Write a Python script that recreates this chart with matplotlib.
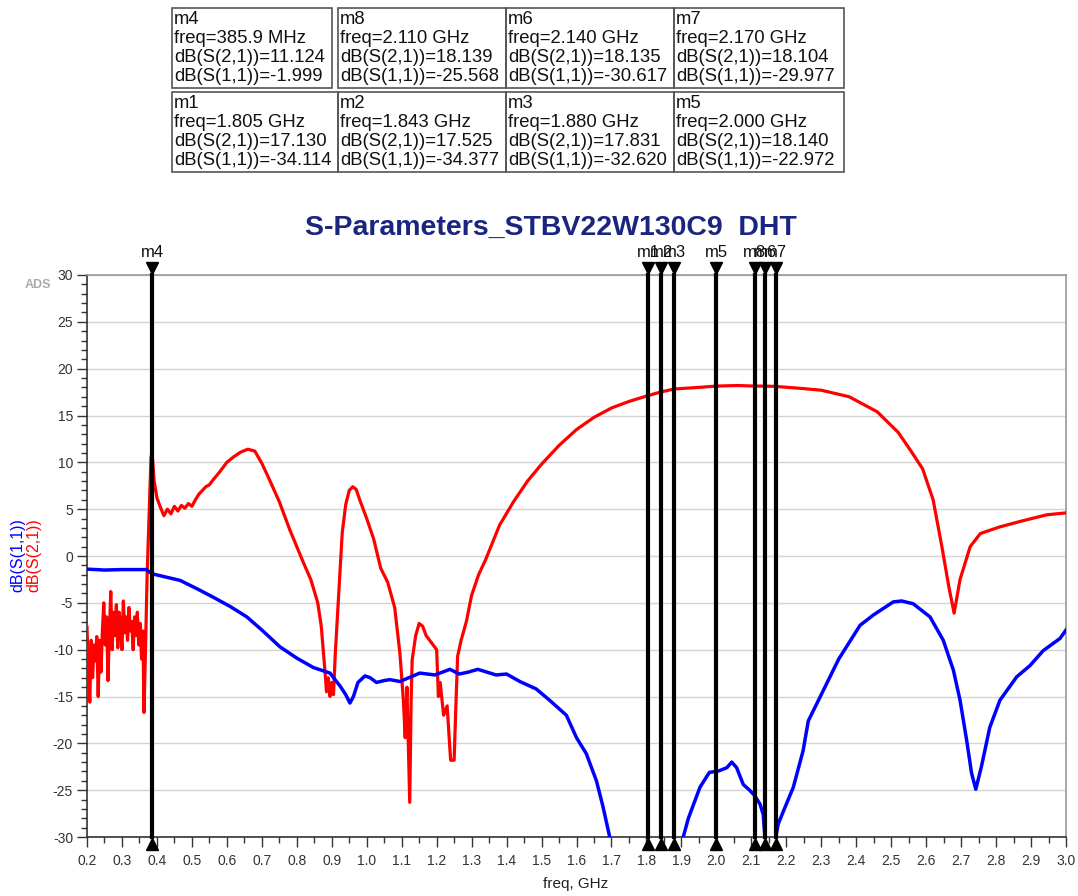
import matplotlib
matplotlib.use("Agg")
import matplotlib.pyplot as plt
from matplotlib.patches import Rectangle
from matplotlib.transforms import offset_copy
from matplotlib.ticker import MultipleLocator, FormatStrFormatter

plt.rcParams["font.family"] = ["Liberation Sans", "DejaVu Sans"]
plt.rcParams["axes.unicode_minus"] = False

# dB(S(2,1))
s21_freq = [0.200, 0.204, 0.208, 0.212, 0.216, 0.220, 0.224, 0.228, 0.232, 0.236,
            0.240, 0.244, 0.248, 0.252, 0.256, 0.260, 0.264, 0.268, 0.272, 0.276,
            0.280, 0.284, 0.288, 0.292, 0.296, 0.300, 0.304, 0.308, 0.312, 0.316,
            0.320, 0.324, 0.328, 0.332, 0.336, 0.340, 0.344, 0.348, 0.352, 0.356,
            0.360,
            0.363, 0.367, 0.372, 0.378, 0.383, 0.386, 0.392, 0.400, 0.410, 0.420,
            0.430, 0.440, 0.450, 0.460, 0.470, 0.480, 0.490, 0.500, 0.510, 0.520,
            0.530, 0.540, 0.550, 0.560, 0.580, 0.600, 0.620, 0.640, 0.660, 0.680,
            0.700, 0.720, 0.750, 0.780, 0.800, 0.820, 0.840, 0.860, 0.870, 0.880,
            0.885, 0.890, 0.895, 0.900, 0.905, 0.910, 0.920, 0.930, 0.940, 0.950,
            0.960, 0.970, 0.980, 1.000, 1.020, 1.040, 1.060, 1.080, 1.095, 1.105,
            1.110, 1.115, 1.120, 1.123, 1.127, 1.130, 1.140, 1.150, 1.160, 1.170,
            1.180, 1.190, 1.200, 1.205, 1.210, 1.220, 1.230, 1.240, 1.250, 1.255,
            1.260, 1.270, 1.285, 1.300, 1.320, 1.340, 1.380, 1.420, 1.460, 1.500,
            1.550, 1.600, 1.650, 1.700, 1.750, 1.805, 1.843, 1.880, 1.950, 2.000,
            2.060, 2.110, 2.140, 2.170, 2.240, 2.300, 2.380, 2.460, 2.520, 2.555,
            2.590, 2.620, 2.645, 2.665, 2.680, 2.697, 2.726, 2.755, 2.810, 2.870,
            2.945, 3.000]
s21_db = [-7.6, -12.6, -15.6, -9.0, -13.0, -9.5, -11.2, -8.6, -15.0, -9.0,
          -12.4, -8.0, -5.0, -9.5, -6.5, -13.3, -8.0, -3.8, -10.0, -6.0,
          -8.5, -5.2, -9.8, -6.0, -7.5, -10.0, -4.8, -8.2, -6.5, -9.0,
          -5.5, -8.0, -7.0, -10.0, -6.5, -8.5, -6.0, -9.5, -7.2, -11.0,
          -8.0,
          -16.7, -10.4, -2.0, 5.0, 10.5, 11.1, 8.0, 6.2, 5.2, 4.3,
          5.0, 4.5, 5.3, 4.8, 5.4, 5.1, 5.6, 5.3, 6.0, 6.6,
          7.0, 7.4, 7.6, 8.1, 9.0, 10.0, 10.6, 11.1, 11.4, 11.2,
          9.9, 8.3, 5.8, 2.8, 1.0, -0.8, -2.5, -5.0, -7.5, -12.0,
          -14.5, -13.0, -15.0, -13.5, -14.8, -10.5, -4.0, 2.5, 5.5, 7.0,
          7.4, 7.1, 6.0, 4.0, 1.8, -1.3, -2.8, -5.5, -10.4, -15.5,
          -19.4, -14.0, -22.0, -26.3, -15.4, -11.1, -8.5, -7.2, -7.5, -8.5,
          -9.0, -9.5, -10.0, -15.0, -13.5, -17.0, -16.0, -21.8, -21.8, -16.0,
          -10.7, -9.0, -7.0, -4.2, -2.0, -0.4, 3.3, 5.8, 8.0, 9.8,
          11.8, 13.5, 14.8, 15.8, 16.5, 17.13, 17.53, 17.83, 18.0, 18.14,
          18.2, 18.14, 18.14, 18.1, 17.9, 17.7, 17.0, 15.4, 13.2, 11.3,
          9.3, 6.0, 1.0, -3.3, -6.1, -2.5, 1.0, 2.4, 3.1, 3.7,
          4.4, 4.6]

# dB(S(1,1))
s11_freq = [0.200, 0.250, 0.300, 0.370, 0.386, 0.420, 0.466, 0.520, 0.561, 0.610,
            0.657, 0.700, 0.752, 0.800, 0.847, 0.895, 0.924, 0.940, 0.952, 0.962,
            0.975, 0.995, 1.010, 1.028, 1.050, 1.066, 1.095, 1.120, 1.152, 1.195,
            1.238, 1.265, 1.290, 1.318, 1.370, 1.400, 1.438, 1.485, 1.523, 1.571,
            1.600, 1.628, 1.657, 1.676, 1.695, 1.720, 1.805, 1.843, 1.880, 1.906,
            1.920, 1.953, 1.980, 2.000, 2.010, 2.030, 2.044, 2.058, 2.077, 2.095,
            2.110, 2.125, 2.134, 2.140, 2.155, 2.170, 2.177, 2.200, 2.220, 2.248,
            2.263, 2.300, 2.350, 2.411, 2.449, 2.506, 2.530, 2.563, 2.611, 2.649,
            2.678, 2.697, 2.716, 2.730, 2.742, 2.758, 2.782, 2.811, 2.859, 2.897,
            2.935, 2.983, 3.000]
s11_db = [-1.4, -1.5, -1.45, -1.45, -1.9, -2.2, -2.6, -3.6, -4.4, -5.4,
          -6.5, -7.9, -9.7, -10.9, -11.9, -12.5, -13.9, -14.8, -15.7, -15.0,
          -13.5, -12.8, -13.0, -13.5, -13.3, -13.2, -13.4, -13.0, -12.5, -12.7,
          -12.1, -12.6, -12.4, -12.1, -12.7, -12.6, -13.4, -14.2, -15.4, -17.0,
          -19.4, -21.1, -24.0, -26.8, -30.0, -32.5, -34.1, -34.4, -32.6, -29.9,
          -28.0, -24.7, -23.1, -23.0, -22.9, -22.6, -22.0, -22.6, -24.4, -25.0,
          -25.6, -26.5, -27.6, -30.6, -31.0, -30.0, -28.6, -26.5, -24.7, -20.8,
          -17.6, -14.8, -11.0, -7.4, -6.3, -4.9, -4.8, -5.1, -6.5, -9.0,
          -12.2, -15.4, -19.7, -23.2, -24.9, -22.5, -18.3, -15.4, -12.9, -11.7,
          -10.1, -8.8, -7.9]

marker_names = ["m4", "m1", "m2", "m3", "m5", "m8", "m6", "m7"]
marker_freq = [0.3859, 1.805, 1.843, 1.880, 2.000, 2.110, 2.140, 2.170]

# marker readout table, two rows of four boxes
table_rows = [
    ["m4", "m8", "m6", "m7"],
    ["m1", "m2", "m3", "m5"],
]
table_freq = [
    ["385.9 MHz", "2.110 GHz", "2.140 GHz", "2.170 GHz"],
    ["1.805 GHz", "1.843 GHz", "1.880 GHz", "2.000 GHz"],
]
table_s21 = [
    ["11.124", "18.139", "18.135", "18.104"],
    ["17.130", "17.525", "17.831", "18.140"],
]
table_s11 = [
    ["-1.999", "-25.568", "-30.617", "-29.977"],
    ["-34.114", "-34.377", "-32.620", "-22.972"],
]

W, H = 1078, 896
fig = plt.figure(figsize=(W / 100, H / 100), dpi=100)
fig.patch.set_facecolor("white")


def fx(x):
    return x / W


def fy(y):
    return 1 - y / H


ax = fig.add_axes([fx(87), fy(837), fx(1066) - fx(87), fy(275) - fy(837)])
ax.plot(s21_freq, s21_db, color="#ff0000", lw=2.3, zorder=3)
ax.plot(s11_freq, s11_db, color="#0000ff", lw=2.5, zorder=4)

ax.set_xlim(0.2, 3.0)
ax.set_ylim(-30, 30)
ax.xaxis.set_major_locator(MultipleLocator(0.1))
ax.xaxis.set_minor_locator(MultipleLocator(0.05))
ax.xaxis.set_major_formatter(FormatStrFormatter("%.1f"))
ax.yaxis.set_major_locator(MultipleLocator(5))
ax.yaxis.set_minor_locator(MultipleLocator(1))
ax.tick_params(axis="both", which="major", direction="out", length=7, width=1,
               labelsize=10, colors="#333333", pad=3)
ax.tick_params(axis="both", which="minor", direction="out", length=4, width=1,
               colors="#333333")
ax.tick_params(axis="x", which="major", pad=5)
ax.grid(axis="y", which="major", color="#d4d4d4", lw=1)
ax.set_axisbelow(True)
for s in ["left", "bottom"]:
    ax.spines[s].set_color("#333333")
    ax.spines[s].set_linewidth(1.2)
for s in ["top", "right"]:
    ax.spines[s].set_color("#999999")
    ax.spines[s].set_linewidth(1.2)

# markers: vertical bars with triangles and labels
top_tr = offset_copy(ax.transData, fig=fig, y=5, units="points")
bot_tr = offset_copy(ax.transData, fig=fig, y=-5, units="points")
lbl_tr = offset_copy(ax.transData, fig=fig, y=11, units="points")
for name, f in zip(marker_names, marker_freq):
    ax.plot([f, f], [-30, 30], color="black", lw=3, zorder=5, clip_on=False)
    ax.plot([f], [30], marker="v", ms=9, color="black", transform=top_tr,
            clip_on=False, zorder=6)
    ax.plot([f], [-30], marker="^", ms=9, color="black", transform=bot_tr,
            clip_on=False, zorder=6)
    ax.text(f, 30, name, transform=lbl_tr, ha="center", va="bottom",
            fontsize=12, color="#111111")

fig.text(fx(551), fy(228), "S-Parameters_STBV22W130C9  DHT", ha="center",
         va="center", fontsize=20.5, fontweight="bold", color="#1a2580")
fig.text(fx(38), fy(285), "ADS", ha="center", va="center", fontsize=9,
         fontweight="bold", color="#aaaaaa")
fig.text(fx(576), fy(884), "freq, GHz", ha="center", va="center",
         fontsize=11, color="#222222")
fig.text(fx(18), fy(555), "dB(S(1,1))", rotation=90, ha="center",
         va="center", fontsize=11.5, color="#0000ff")
fig.text(fx(34), fy(555), "dB(S(2,1))", rotation=90, ha="center",
         va="center", fontsize=11.5, color="#ff0000")

# marker table
box_x = [
    [(172, 332), (338, 506), (506, 674), (674, 844)],
    [(172, 338), (338, 506), (506, 674), (674, 844)],
]
box_y = [(8, 88), (92, 172)]
for r in range(2):
    y0, y1 = box_y[r]
    for c in range(4):
        x0, x1 = box_x[r][c]
        fig.add_artist(Rectangle((fx(x0), fy(y1)), fx(x1) - fx(x0),
                                 fy(y0) - fy(y1), transform=fig.transFigure,
                                 fill=False, edgecolor="#555555", lw=1.2))
        lines = [table_rows[r][c],
                 "freq=" + table_freq[r][c],
                 "dB(S(2,1))=" + table_s21[r][c],
                 "dB(S(1,1))=" + table_s11[r][c]]
        for k, t in enumerate(lines):
            fig.text(fx(x0 + 2), fy(y0 + 11 + 19.3 * k), t, ha="left",
                     va="center", fontsize=13.3, color="#111111")

fig.savefig("out.png", dpi=100, facecolor="white")
